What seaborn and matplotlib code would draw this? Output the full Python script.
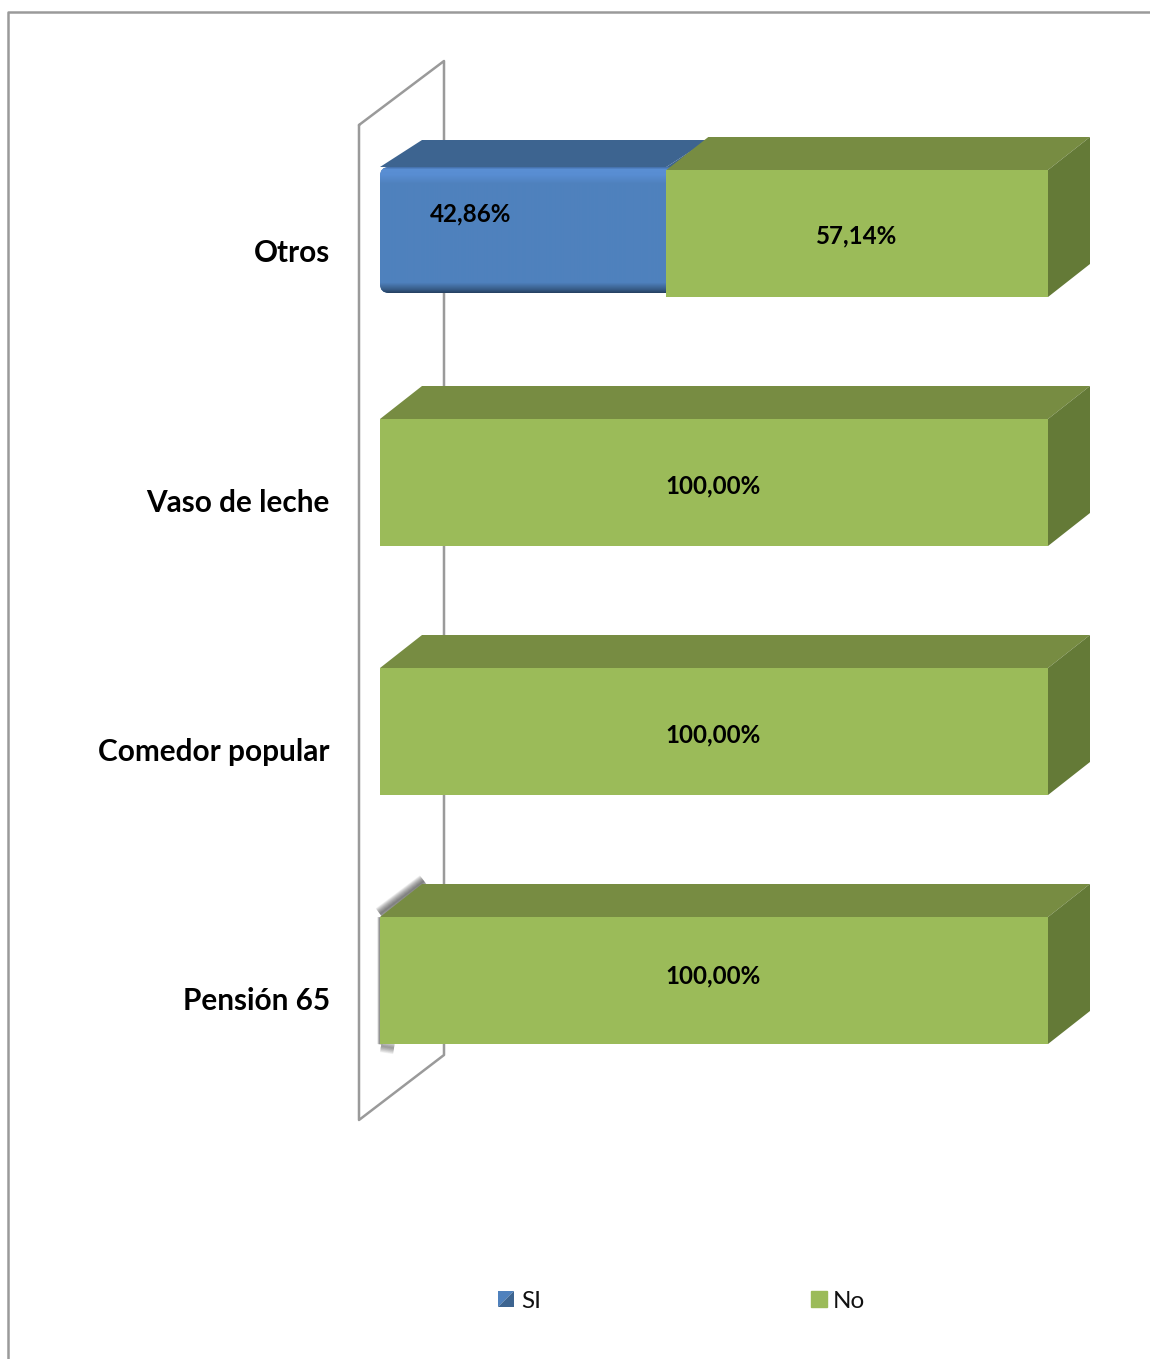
import numpy as np
import matplotlib
matplotlib.use("Agg")
import matplotlib.pyplot as plt
import seaborn as sns
from matplotlib.lines import Line2D
from matplotlib.patches import FancyBboxPatch, Patch, Polygon
from matplotlib.legend_handler import HandlerBase
from matplotlib.transforms import ScaledTranslation

# data
categorias = ["Otros", "Vaso de leche", "Comedor popular", "Pensión 65"]
si = [42.86, 0.0, 0.0, 0.0]
no = [57.14, 100.0, 100.0, 100.0]
etiquetas_si = ["42,86%", "", "", ""]
etiquetas_no = ["57,14%", "100,00%", "100,00%", "100,00%"]
series = ["SI", "No"]

W, H = 1150, 1359
VERDE, VERDE_TOP, VERDE_LADO = "#9BBB59", "#778C42", "#647A37"
AZUL, AZUL_TOP = "#4F81BD", "#3D6490"
GRIS = "#9A9A9A"

sns.set_theme(style="white")
plt.rcParams["font.family"] = ["Lato", "DejaVu Sans"]

fig = plt.figure(figsize=(W / 100, H / 100), dpi=100)
ax = fig.add_axes([380 / W, 1 - 1105 / H, 668 / W, 996 / H])

# one pixel in data units
px = 100 / 668
py = 1 / 249
DX, DY = 42 * px, 33 * py

sns.barplot(x=si, y=categorias, color=AZUL, saturation=1, width=0.51,
            linewidth=0, zorder=3, ax=ax)
n_azul = len(ax.patches)
sns.barplot(x=no, y=categorias, left=si, color=VERDE, saturation=1, width=0.51,
            linewidth=0, zorder=5, ax=ax)
barras_si = ax.patches[:n_azul]
barras_no = ax.patches[n_azul:]

ax.set_xlim(0, 100)
ax.set_ylim(3.5, -0.5)
ax.set_xlabel("")
ax.set_ylabel("")
ax.set_xticks([])
sns.despine(ax=ax, left=True, bottom=True)
ax.patch.set_alpha(0)

# category labels sit lower than the bars
ax.tick_params(axis="y", length=0, pad=36, labelsize=21.4)
for lab in ax.get_yticklabels():
    lab.set_fontweight("bold")
    lab.set_color("black")
    lab.set_va("baseline")
    lab.set_transform(lab.get_transform() + ScaledTranslation(0, -0.29, fig.dpi_scale_trans))


def caras(b, dx, dy, c_top, c_lado, z):
    # fake 3d faces taken from the bar rectangle
    x0, x1 = b.get_x(), b.get_x() + b.get_width()
    y0, y1 = b.get_y(), b.get_y() + b.get_height()
    top = [(x0, y0), (x0 + dx, y0 - dy), (x1 + dx, y0 - dy), (x1, y0)]
    lado = [(x1, y0), (x1 + dx, y0 - dy), (x1 + dx, y1 - dy), (x1, y1)]
    ax.add_patch(Polygon(top, closed=True, fc=c_top, ec="none", zorder=z, clip_on=False))
    ax.add_patch(Polygon(lado, closed=True, fc=c_lado, ec="none", zorder=z, clip_on=False))


for b in barras_no:
    caras(b, DX, DY, VERDE_TOP, VERDE_LADO, 4)

# blue bar: 3 px higher, rounded left side and bevel
for b, val in zip(barras_si, si):
    if val <= 0:
        continue
    b.set_y(b.get_y() - 3 * py)
    b.set_height(b.get_height() - 1 * py)
    caras(b, DX, 27 * py, AZUL_TOP, AZUL_TOP, 2)
    # the right end runs on under the green bar so only the left corners show round
    x0, x1 = b.get_x(), b.get_x() + b.get_width() + 3 * px
    y0, y1 = b.get_y(), b.get_y() + b.get_height()
    redondo = FancyBboxPatch((x0, y0), x1 + 20 * px - x0, y1 - y0,
                             boxstyle=f"round,pad=0,rounding_size={9 * px}",
                             mutation_aspect=py / px, fc="none", ec="none")
    ax.add_patch(redondo)
    t = np.linspace(0, 1, 126)
    stops = [0, 0.015, 0.06, 0.13, 0.92, 0.975, 1]
    rojo = [70, 90, 88, 79, 79, 55, 38]
    verde = [115, 143, 141, 129, 129, 92, 66]
    azul = [175, 212, 210, 189, 189, 135, 100]
    grad = np.stack([np.interp(t, stops, c) for c in (rojo, verde, azul)], axis=1) / 255
    im = ax.imshow(grad[:, None, :], extent=(x0, x1, y1, y0), aspect="auto", zorder=3.5)
    im.set_clip_path(redondo)
    b.set_clip_path(redondo)
    ax.set_xlim(0, 100)
    ax.set_ylim(3.5, -0.5)

# soft shadow left by the empty SI bar on the last row
b = barras_no[-1]
x0, y0, y1 = b.get_x(), b.get_y(), b.get_y() + b.get_height()
for lw in [1, 2, 3, 4, 5, 6, 7, 8, 9, 10]:
    ax.plot([x0 + 0 * px, x0 + 44 * px], [y0 - 3 * py, y0 - 36 * py], color="#333333", lw=lw,
            alpha=0.085, solid_capstyle="butt", zorder=2, clip_on=False)
    ax.plot([x0 + 1 * px, x0 + 14 * px], [y1 + 2 * py, y1 + 4 * py], color="#333333", lw=lw * 0.9,
            alpha=0.06, solid_capstyle="butt", zorder=2, clip_on=False)
    ax.plot([x0, x0], [y0, y1], color="#333333", lw=lw * 0.4,
            alpha=0.09, solid_capstyle="butt", zorder=2, clip_on=False)

# value labels
desp_no = [2.5, 3, 3, -4.5]
for b, txt, d in zip(barras_no, etiquetas_no, desp_no):
    ax.text(b.get_x() + b.get_width() / 2 - 1 * px, b.get_y() + b.get_height() / 2 + d * py, txt,
            ha="center", va="center", fontsize=17.4, fontweight="bold", color="black", zorder=7)
for b, txt in zip(barras_si, etiquetas_si):
    if txt:
        ax.text(b.get_x() + b.get_width() * 0.318, b.get_y() + b.get_height() / 2 - 16 * py, txt,
                ha="center", va="center", fontsize=17.4, fontweight="bold", color="black", zorder=7)

# wall of the 3d chart, drawn in figure pixels
pared_x = [359, 444, 444, 359, 359]
pared_y = [125, 61, 1055, 1120, 125]
fig.add_artist(Line2D(np.array(pared_x) / W, 1 - np.array(pared_y) / H, color=GRIS, lw=1.8,
                      transform=fig.transFigure, zorder=0))
ax.set_zorder(2)

# outer frame of the chart
fig.add_artist(Line2D(np.array([8, 8, 1150]) / W, 1 - np.array([1359, 12, 12]) / H, color=GRIS,
                      lw=1.8, transform=fig.transFigure, zorder=0))


class CuadroSI(HandlerBase):
    def create_artists(self, legend, handle, xd, yd, w, h, fontsize, trans):
        a = Polygon([(-xd, -yd), (-xd, -yd + h), (-xd + w, -yd + h)], fc=AZUL, ec="none", transform=trans)
        c = Polygon([(-xd, -yd), (-xd + w, -yd), (-xd + w, -yd + h)], fc=AZUL_TOP, ec="none", transform=trans)
        return [a, c]


h_si = Patch(color=AZUL, label=series[0])
h_no = Patch(color=VERDE, label=series[1])
fig.legend(handles=[h_si, h_no], handler_map={h_si: CuadroSI()}, ncol=2, frameon=False,
           loc="center left", bbox_to_anchor=(488.5 / W, 1 - 1301 / H), fontsize=17.5,
           labelcolor="#111111", handlelength=0.66, handleheight=0.66, handletextpad=0.27,
           columnspacing=11.1, borderpad=0.4, borderaxespad=0)

fig.savefig("out.png", dpi=100, facecolor="white")
